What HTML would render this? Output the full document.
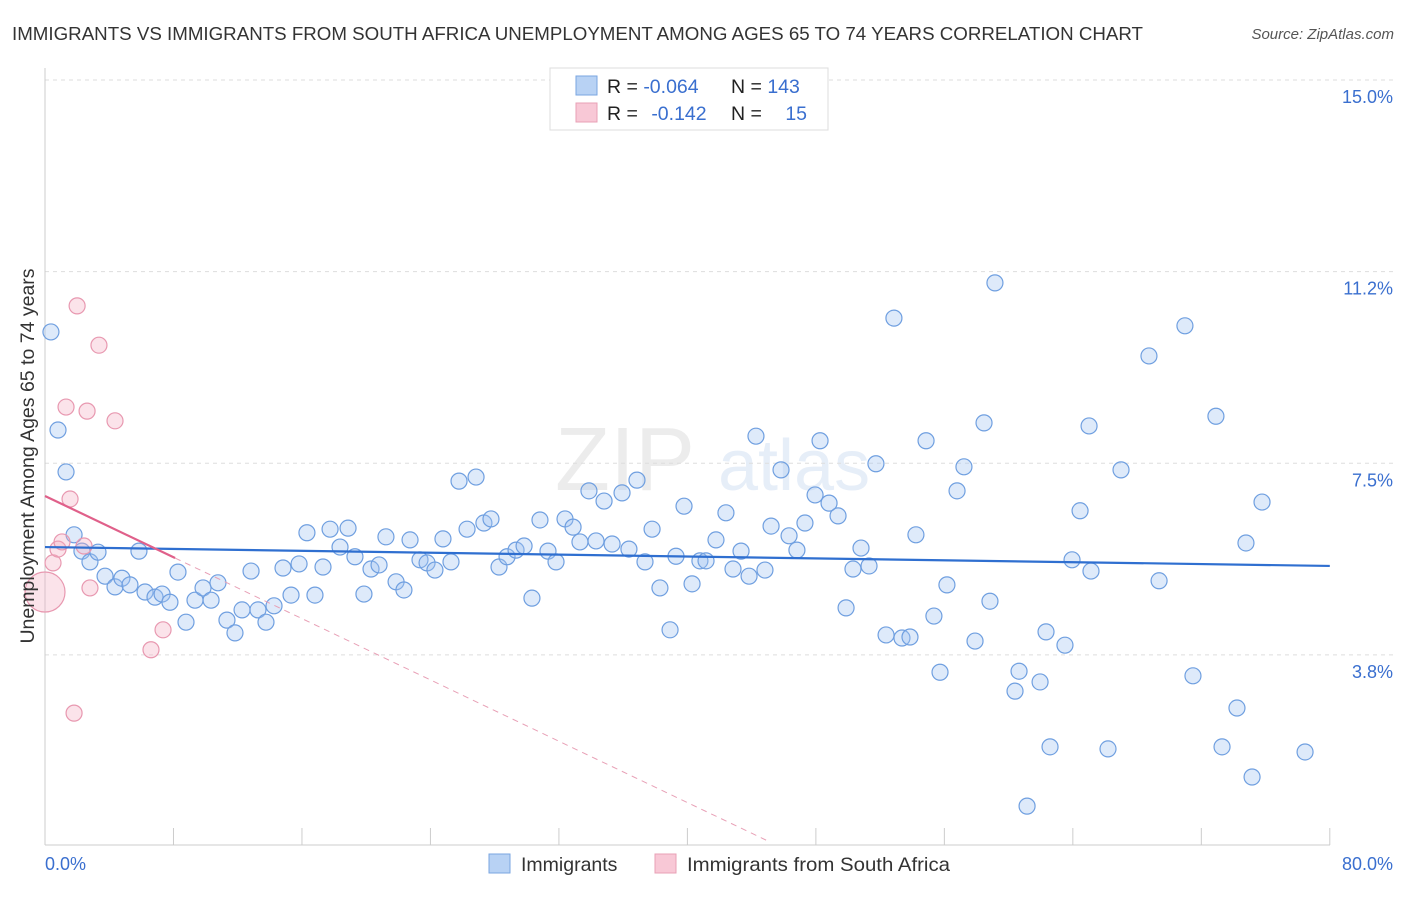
<!DOCTYPE html>
<html><head><meta charset="utf-8">
<style>
body{margin:0;background:#fff;font-family:"Liberation Sans",sans-serif;}
svg text{font-family:"Liberation Sans",sans-serif;}
</style></head>
<body>
<svg id="chart" width="1406" height="892" xmlns="http://www.w3.org/2000/svg">
<text x="12" y="40" font-size="18" fill="#333" textLength="1131" lengthAdjust="spacingAndGlyphs">IMMIGRANTS VS IMMIGRANTS FROM SOUTH AFRICA UNEMPLOYMENT AMONG AGES 65 TO 74 YEARS CORRELATION CHART</text>
<text x="1394" y="39" font-size="15" fill="#555" text-anchor="end" font-style="italic">Source: ZipAtlas.com</text>
<g opacity="0.13">
<text x="555" y="490" font-size="90" font-family="Liberation Serif" fill="#777">ZIP</text>
<text x="718" y="490" font-size="72" fill="#4a7fd0">atlas</text>
</g>
<g id="grid"></g>
<g id="axes"></g>
<g id="marks"></g>
<text transform="translate(34,456) rotate(-90)" font-size="19.5" fill="#333" text-anchor="middle">Unemployment Among Ages 65 to 74 years</text>
<g>
<rect x="550" y="68" width="278" height="62" fill="#fff" stroke="#ddd"/>
<rect x="576" y="76" width="21" height="19" fill="#b8d2f4" stroke="#7aa6e0"/>
<text x="607" y="93" font-size="19.5" fill="#222">R = <tspan fill="#3a6fcf">-0.064</tspan></text>
<text x="731" y="93" font-size="19.5" fill="#222">N = <tspan fill="#3a6fcf">143</tspan></text>
<rect x="576" y="103" width="21" height="19" fill="#f8c8d6" stroke="#e8a0b6"/>
<text x="607" y="120" font-size="19.5" fill="#222">R = <tspan fill="#3a6fcf" dx="8">-0.142</tspan></text>
<text x="731" y="120" font-size="19.5" fill="#222">N = <tspan fill="#3a6fcf" dx="18">15</tspan></text>
</g>
<g>
<rect x="489" y="854" width="21" height="19" fill="#b8d2f4" stroke="#7aa6e0"/>
<text x="521" y="871" font-size="19.5" fill="#333">Immigrants</text>
<rect x="655" y="854" width="21" height="19" fill="#f8c8d6" stroke="#e8a0b6"/>
<text x="687" y="871" font-size="19.5" fill="#333" textLength="263" lengthAdjust="spacingAndGlyphs">Immigrants from South Africa</text>
</g>
</svg>
<script>
const blueX=[0.37,0.81,1.31,1.81,2.30,2.80,3.30,3.74,4.36,4.79,5.29,5.85,6.23,6.85,7.29,7.78,8.28,8.78,9.34,9.84,10.34,10.77,11.33,11.83,12.27,12.83,13.26,13.76,14.26,14.82,15.32,15.82,16.31,16.81,17.31,17.75,18.37,18.87,19.30,19.86,20.30,20.80,21.23,21.86,22.35,22.73,23.35,23.79,24.28,24.78,25.28,25.78,26.28,26.84,27.33,27.77,28.27,28.77,29.33,29.83,30.32,30.82,31.32,31.82,32.38,32.88,33.31,33.87,34.31,34.81,35.31,35.93,36.36,36.86,37.36,37.80,38.29,38.92,39.29,39.79,40.29,40.78,41.16,41.78,42.40,42.84,43.34,43.84,44.27,44.83,45.21,45.83,46.33,46.82,47.32,47.95,48.26,48.82,49.38,49.88,50.31,50.81,51.31,51.74,52.37,52.86,53.36,53.86,54.23,54.86,55.35,55.73,56.16,56.79,57.22,57.91,58.47,58.84,59.15,60.40,60.65,61.15,61.96,62.33,62.58,63.51,63.95,64.45,65.13,65.01,66.19,67.00,68.74,69.37,70.98,71.48,72.91,73.29,74.22,74.78,75.16,75.78,78.46];
const blueY=[10.07,8.15,7.33,6.10,5.78,5.57,5.76,5.29,5.08,5.25,5.12,5.78,4.98,4.88,4.94,4.78,5.37,4.39,4.82,5.06,4.82,5.16,4.43,4.18,4.63,5.39,4.63,4.39,4.71,5.45,4.92,5.53,6.14,4.92,5.47,6.21,5.86,6.23,5.67,4.94,5.43,5.51,6.06,5.18,5.02,6.00,5.61,5.55,5.41,6.02,5.57,7.15,6.21,7.23,6.33,6.41,5.47,5.67,5.80,5.88,4.86,6.39,5.78,5.57,6.41,6.25,5.96,6.96,5.98,6.76,5.92,6.92,5.82,7.17,5.57,6.21,5.06,4.24,5.68,6.66,5.14,5.59,5.59,6.00,6.53,5.43,5.78,5.29,8.03,5.41,6.27,7.37,6.08,5.80,6.33,6.88,7.94,6.72,6.47,4.67,5.43,5.84,5.49,7.49,4.14,10.34,4.08,4.10,6.10,7.94,4.51,3.41,5.12,6.96,7.43,4.02,8.29,4.80,11.03,3.04,3.43,0.79,3.22,4.20,1.95,3.94,5.61,6.57,5.39,8.23,1.91,7.37,9.60,5.20,10.19,3.34,8.42,1.95,2.71,5.94,1.36,6.74,1.85];
const pinkX=[0.0,0.50,0.81,1.06,1.31,1.56,1.81,2.00,2.43,2.62,2.80,3.36,4.36,6.60,7.35];
const pinkY=[4.98,5.55,5.82,5.96,8.60,6.80,2.61,10.58,5.88,8.52,5.06,9.81,8.33,3.85,4.24];
const pinkR=[20,8,8,8,8,8,8,8,8,8,8,8,8,8,8];
const yTicks=[3.75,7.5,11.25,15];
const yTickLabels=["3.8%","7.5%","11.2%","15.0%"];
const xTicks=[0,8,16,24,32,40,48,56,64,72,80];
const blueTrend=[5.86,5.49];
const pinkTrend=[6.86,-0.150];

const NS="http://www.w3.org/2000/svg";
const sx=v=>45+v*16.06;
const sy=v=>80+(15-v)*51.1;
function mk(tag,attrs,parent){const e=document.createElementNS(NS,tag);for(const k in attrs)e.setAttribute(k,attrs[k]);parent.appendChild(e);return e;}
const grid=document.getElementById('grid'),axes=document.getElementById('axes'),marks=document.getElementById('marks');
yTicks.forEach((t,i)=>{
  const l=mk('line',{x1:45,x2:1394,y1:sy(t),y2:sy(t),stroke:'#ddd','stroke-dasharray':'4,4'},grid);
  
  
  const tx=mk('text',{x:1393,y:sy(t)+23,'font-size':18,fill:'#3a6fcf','text-anchor':'end'},axes);
  tx.textContent=yTickLabels[i];
  
  
});
const ax=mk('line',{x1:45,x2:1330,y1:845,y2:845,stroke:'#ccc'},axes);


const ay=mk('line',{x1:45,x2:45,y1:68,y2:845,stroke:'#ccc'},axes);


xTicks.forEach(t=>{
  const l=mk('line',{x1:sx(t),x2:sx(t),y1:828,y2:845,stroke:'#ccc'},axes);
  
  
});
const xl0=mk('text',{x:45,y:870,'font-size':18,fill:'#3a6fcf'},axes);xl0.textContent='0.0%';


const xl1=mk('text',{x:1393,y:870,'font-size':18,fill:'#3a6fcf','text-anchor':'end'},axes);xl1.textContent='80.0%';



blueX.forEach((x,i)=>{
  const c=mk('circle',{cx:sx(x),cy:sy(blueY[i]),r:8,fill:'rgba(160,196,240,0.35)',stroke:'#6f9fe0','stroke-width':1.2},marks);
  
  
});
pinkX.forEach((x,i)=>{
  const c=mk('circle',{cx:sx(x),cy:sy(pinkY[i]),r:pinkR[i],fill:'rgba(244,176,196,0.35)',stroke:'#e898b0','stroke-width':1.2},marks);
  
  
});
const bl=mk('line',{x1:sx(0),y1:sy(blueTrend[0]),x2:sx(80),y2:sy(blueTrend[1]),stroke:'#2f6fd0','stroke-width':2.2},marks);


const pEnd=8.1, dEnd=44.9;
const pd=mk('line',{x1:sx(pEnd),y1:sy(pinkTrend[0]+pinkTrend[1]*pEnd),x2:sx(dEnd),y2:sy(pinkTrend[0]+pinkTrend[1]*dEnd),stroke:'#e8a0b6','stroke-width':1,'stroke-dasharray':'6,5'},marks);


const pl=mk('line',{x1:sx(0),y1:sy(pinkTrend[0]),x2:sx(pEnd),y2:sy(pinkTrend[0]+pinkTrend[1]*pEnd),stroke:'#e0608a','stroke-width':2.2},marks);


</script>
</body></html>
